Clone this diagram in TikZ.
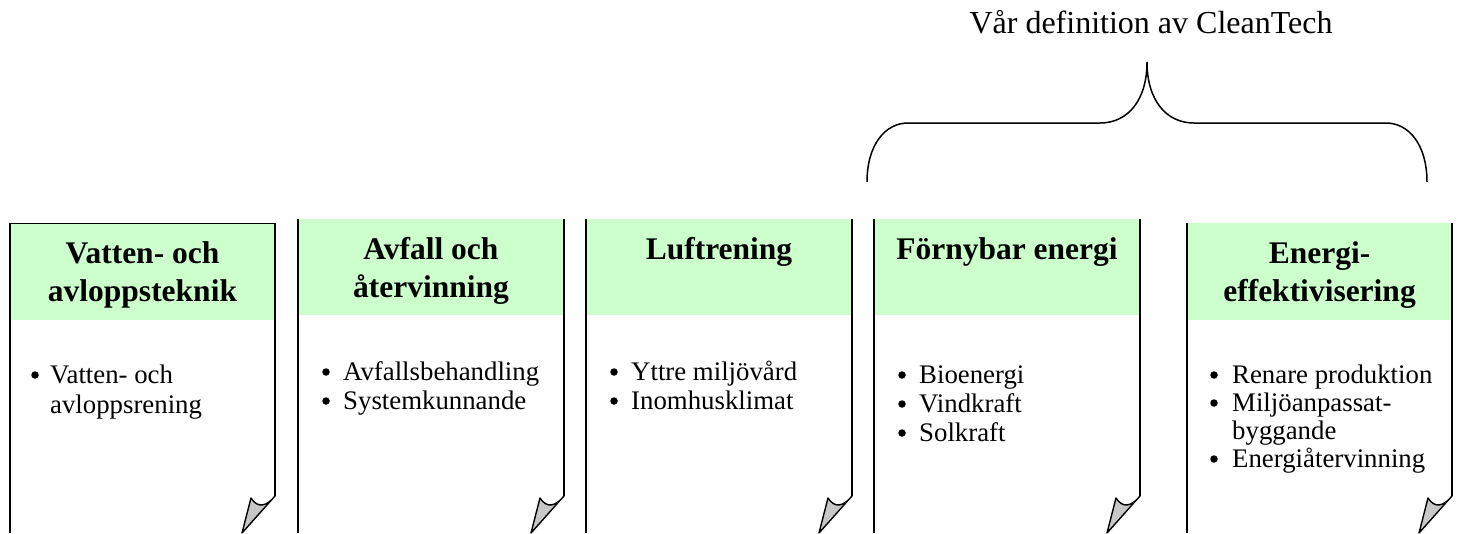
\documentclass[tikz,border=0pt]{standalone}
\usepackage{fontspec}
\setmainfont{Liberation Serif}
\begin{document}
\begin{tikzpicture}[x=1pt,y=-1pt,
  edge/.style={line width=1.6pt,black},
  foldp/.style={fill=black!22, draw=black, line width=1.4pt, line join=round},
  ttl/.style={anchor=base, inner sep=0pt, font=\fontsize{31.5}{37}\selectfont\bfseries},
  bul/.style={circle, fill=black, inner sep=0pt, minimum size=7.5pt},
  txt/.style={anchor=base west, inner sep=0pt, font=\fontsize{26.8}{30}\selectfont},
  head/.style={anchor=base, inner sep=0pt, font=\fontsize{32}{37}\selectfont}]
\useasboundingbox (0,0) rectangle (1457,533);
\definecolor{bandgreen}{HTML}{CCFFCC}
% boxes: left, right, top, band bottom
\foreach \L/\R/\T/\B in {10/275/223/320, 298/564/219/315, 586/852/219/315, 874/1140/219/315, 1187/1452/223/320}{
  \fill[bandgreen] (\L,\T) rectangle (\R,\B);
  \draw[edge] (\L,\T) -- (\L,533);
  \draw[edge] (\R,\T) -- (\R,496);
  \filldraw[foldp] (\R-24,498) .. controls (\R-17,509) and (\R-8,506) .. (\R,496) -- (\R-33,533) -- cycle;
}
\draw[line width=1pt] (10,223) -- (275,223);
% titles
\node[ttl] (t1a) at (142.5,263) {Vatten- och};
\node[ttl] (t1b) at (142.5,301) {avloppsteknik};
\node[ttl] (t2a) at (431,259) {Avfall och};
\node[ttl] (t2b) at (431,297) {återvinning};
\node[ttl] (t3) at (719,259) {Luftrening};
\node[ttl] (t4) at (1007,259) {Förnybar energi};
\node[ttl] (t5a) at (1319.5,263) {Energi-};
\node[ttl] (t5b) at (1319.5,301) {effektivisering};
% box 1 items
\node[bul] (b1a) at (35,375) {};
\node[txt] (i1a) at (50,383) {Vatten- och};
\node[txt] (i1b) at (50,413) {avloppsrening};
% box 2 items
\node[bul] (b2a) at (326,372) {};
\node[txt] (i2a) at (343,380) {Avfallsbehandling};
\node[bul] (b2b) at (326,401) {};
\node[txt] (i2b) at (343,409) {Systemkunnande};
% box 3 items
\node[bul] (b3a) at (614,372) {};
\node[txt] (i3a) at (631,380) {Yttre miljövård};
\node[bul] (b3b) at (614,401) {};
\node[txt] (i3b) at (631,409) {Inomhusklimat};
% box 4 items
\node[bul] (b4a) at (902,375) {};
\node[txt] (i4a) at (919,383) {Bioenergi};
\node[bul] (b4b) at (902,404) {};
\node[txt] (i4b) at (919,412) {Vindkraft};
\node[bul] (b4c) at (902,433) {};
\node[txt] (i4c) at (919,441) {Solkraft};
% box 5 items
\node[bul] (b5a) at (1214,375) {};
\node[txt] (i5a) at (1232,383) {Renare produktion};
\node[bul] (b5b) at (1214,403) {};
\node[txt] (i5b) at (1232,411) {Miljöanpassat-};
\node[txt] (i5c) at (1232,439) {byggande};
\node[bul] (b5c) at (1214,459) {};
\node[txt] (i5d) at (1232,467) {Energiåtervinning};
% heading and brace
\node[head] (hd) at (1151,33) {Vår definition av CleanTech};
\coordinate (bl) at (867,182);
\coordinate (tip) at (1147,62);
\coordinate (br) at (1427,182);
\draw[line width=1.5pt] (bl) .. controls (867,145) and (885,123) .. (908,123) -- (1100,123)
  .. controls (1128,123) and (1147,100) .. (tip)
  .. controls (1147,100) and (1166,123) .. (1194,123) -- (1386,123)
  .. controls (1409,123) and (1427,145) .. (br);
\end{tikzpicture}
\end{document}
